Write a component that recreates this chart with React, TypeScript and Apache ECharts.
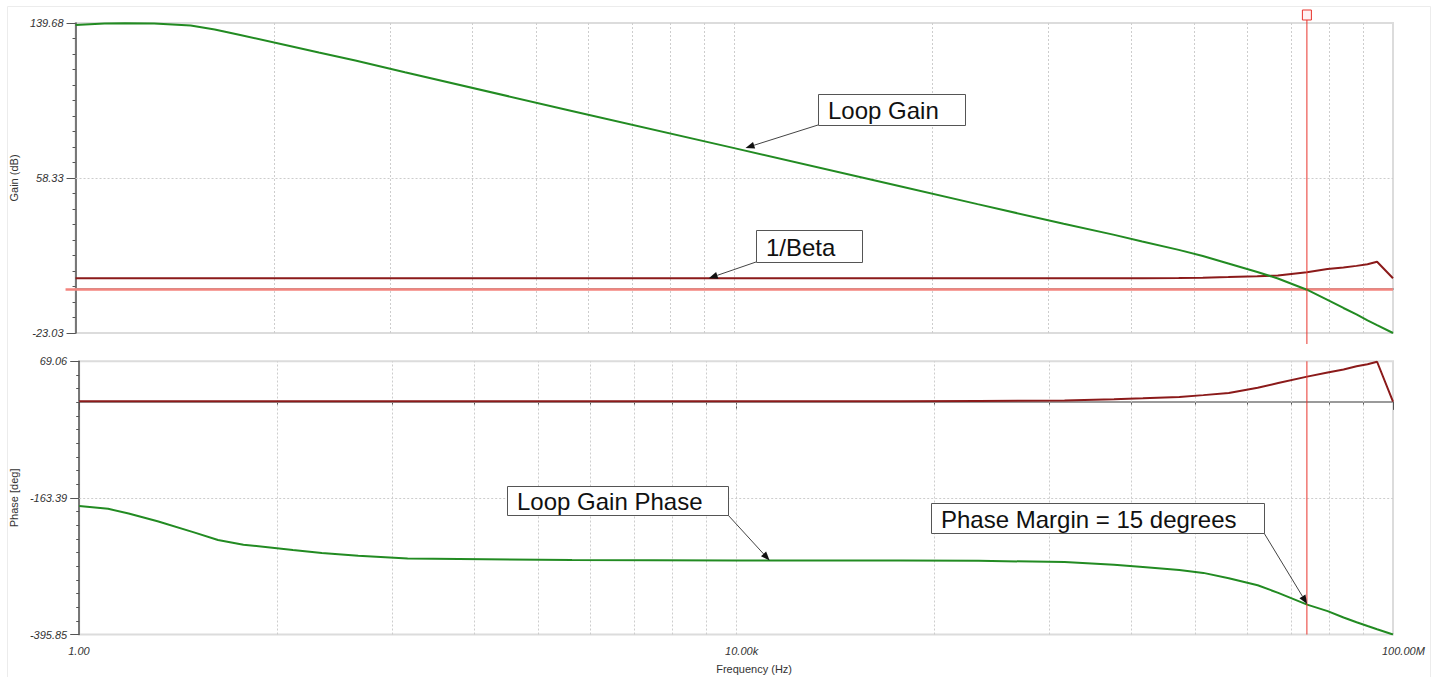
import React, { useEffect, useRef } from "react";
import * as echarts from "echarts";

// ---- data ----
const freqs = [1, 1.5, 2, 3, 5, 7, 10, 20, 30, 50, 100, 1e3, 1e4, 1e5, 3e5, 1e6, 2e6, 3e6, 5e6, 7e6, 1e7, 1.5e7, 2e7, 3e7, 4e7, 5e7, 6e7, 7e7, 8e7, 1e8];
const loopGainDb = [138.6, 139.4, 139.6, 139.4, 138.4, 136.3, 133.4, 127.6, 124.2, 120.0, 113.8, 93.8, 74.0, 54.1, 44.6, 34.3, 28.6, 25.0, 20.6, 17.4, 13.45, 9.0, 5.6, -0.3, -5.6, -9.9, -13.3, -16.4, -18.9, -23.03];
const betaDb = [5.7, 5.7, 5.7, 5.7, 5.7, 5.7, 5.7, 5.7, 5.7, 5.7, 5.7, 5.7, 5.7, 5.7, 5.7, 5.7, 5.7, 5.75, 5.85, 6.0, 6.3, 6.7, 7.2, 8.8, 10.6, 11.4, 12.2, 13.1, 14.4, 5.7];
const loopPhaseDeg = [-177, -182, -190, -203, -222, -235, -243, -252, -257, -262, -266.5, -269, -270, -270, -270.5, -272.5, -277, -281, -286, -291, -300, -312, -325, -345, -356, -367, -375, -381.5, -387, -395.85];
const betaPhaseDeg = [1, 1, 1, 1, 1, 1, 1, 1, 1, 1, 1, 1, 1, 1, 1.5, 2.5, 4.5, 6, 8.5, 11.5, 15, 24, 32, 43, 50, 55, 60.5, 64, 68.3, 0.5];

const gainRange = [-23.03, 139.68];
const phaseRange = [-395.85, 69.06];
const gainTickValues = [-23.03, 58.325, 139.68];
const gainTickLabels = ["-23.03", "58.33", "139.68"];
const phaseTickValues = [-395.85, -163.395, 69.06];
const phaseTickLabels = ["-395.85", "-163.39", "69.06"];
const freqTickValues = [1, 1e4, 1e8];
const freqTickLabels = ["1.00", "10.00k", "100.00M"];
const freqGridValues = [16, 81, 256, 625, 1296, 2401, 4096, 6561, 1e4, 160000, 810000, 2560000, 6250000, 12960000, 24010000, 40960000, 65610000];

const cursorFreq = 3e7;
const cursorGainDb = 0;

const annotations = [
  { text: "Loop Gain", grid: 0, at: [11700, 74.1], box: [818, 94, 147, 31], tail: "bl" },
  { text: "1/Beta", grid: 0, at: [7000, 5.7], box: [756, 230, 106, 32], tail: "bl" },
  { text: "Loop Gain Phase", grid: 1, at: [16000, -270], box: [507, 486, 221, 29], tail: "br" },
  { text: "Phase Margin = 15 degrees", grid: 1, at: [3e7, -344], box: [931, 503, 333, 30], tail: "br" },
];

const FONT = "'Liberation Sans', Arial, Helvetica, sans-serif";

const minorTicks = (r: number[]) => Array.from({ length: 21 }, (_, i) => r[0] + ((r[1] - r[0]) * i) / 20);
const lookup = (vals: number[], labels: string[]) => (v: number) => {
  let best = 0;
  vals.forEach((x, i) => {
    if (Math.abs(x - v) < Math.abs(vals[best] - v)) best = i;
  });
  return labels[best];
};

const yMajor = (gridIndex: number, range: number[], vals: number[], labels: string[], name: string) => ({
  type: "value",
  gridIndex,
  position: "left",
  min: range[0],
  max: range[1],
  name,
  nameLocation: "middle",
  nameRotate: 90,
  nameGap: 54,
  nameTextStyle: { fontFamily: FONT, fontSize: 11, color: "#333" },
  axisLine: { show: true, lineStyle: { color: "#555", width: 1.5 } },
  axisTick: { show: true, length: 9, customValues: vals, lineStyle: { color: "#555", width: 1 } },
  axisLabel: {
    show: true,
    customValues: vals,
    formatter: lookup(vals, labels),
    margin: 12,
    fontFamily: FONT,
    fontSize: 11,
    fontStyle: "italic",
    color: "#333",
  },
  splitLine: { show: false },
});

const yMinor = (gridIndex: number, range: number[]) => ({
  type: "value",
  gridIndex,
  position: "left",
  min: range[0],
  max: range[1],
  axisLine: { show: false },
  axisLabel: { show: false },
  splitLine: { show: false },
  axisTick: { show: true, length: 3, customValues: minorTicks(range), lineStyle: { color: "#555", width: 1 } },
});

const xBase = (gridIndex: number) => ({
  type: "log",
  logBase: 10000,
  min: 1,
  max: 1e8,
  gridIndex,
  position: "bottom",
  splitLine: { show: false },
  minorTick: { show: false },
  minorSplitLine: { show: false },
});

const gridMarkLine = (extraY: number) => ({
  silent: true,
  z: 1,
  symbol: ["none", "none"],
  label: { show: false },
  emphasis: { disabled: true },
  lineStyle: { color: "#cdcdcd", type: [2, 2], width: 1 },
  data: [...freqGridValues.map((f) => ({ xAxis: f })), { yAxis: extraY }],
});

function buildGraphics(chart: any) {
  const px = (grid: number, pt: number[]) => chart.convertToPixel({ gridIndex: grid }, pt) as number[];
  const els: any[] = [];
  els.push({
    type: "rect",
    silent: true,
    z: 0,
    shape: { x: 7.5, y: 6.5, width: 1423, height: 690 },
    style: { fill: "none", stroke: "#ececec", lineWidth: 1 },
  });
  const cx = px(0, [cursorFreq, 0])[0];
  const top0 = px(0, [1, gainRange[1]])[1];
  const bot0 = px(0, [1, gainRange[0]])[1];
  const top1 = px(1, [1, phaseRange[1]])[1];
  const bot1 = px(1, [1, phaseRange[0]])[1];
  const [left0, cy] = px(0, [1, cursorGainDb]);
  const right0 = px(0, [1e8, cursorGainDb])[0];
  els.push({
    type: "line",
    silent: true,
    z: 1,
    shape: { x1: left0 - 10, y1: cy + 0.5, x2: right0, y2: cy + 0.5 },
    style: { stroke: "#f3847e", lineWidth: 2.5 },
  });
  els.push({
    type: "line",
    silent: true,
    z: 4,
    shape: { x1: cx, y1: top0 - 3, x2: cx, y2: bot0 + 11 },
    style: { stroke: "#e8342c", lineWidth: 1 },
  });
  els.push({
    type: "line",
    silent: true,
    z: 4,
    shape: { x1: cx, y1: top1, x2: cx, y2: bot1 },
    style: { stroke: "#e8342c", lineWidth: 1 },
  });
  els.push({
    type: "rect",
    silent: true,
    z: 4,
    shape: { x: cx - 4.5, y: top0 - 13, width: 9, height: 10 },
    style: { fill: "#fff2f2", stroke: "#e8342c", lineWidth: 1 },
  });

  annotations.forEach((a) => {
    const [bx, by, bw, bh] = a.box;
    const tip = px(a.grid, a.at);
    const tail = a.tail === "bl" ? [bx, by + bh] : [bx + bw, by + bh];
    const dx = tip[0] - tail[0];
    const dy = tip[1] - tail[1];
    const len = Math.sqrt(dx * dx + dy * dy);
    const ux = dx / len;
    const uy = dy / len;
    const base = [tip[0] - ux * 9, tip[1] - uy * 9];
    const nx = -uy * 3.5;
    const ny = ux * 3.5;
    els.push({
      type: "line",
      silent: true,
      z: 10,
      shape: { x1: tail[0], y1: tail[1], x2: base[0], y2: base[1] },
      style: { stroke: "#444", lineWidth: 1 },
    });
    els.push({
      type: "polygon",
      silent: true,
      z: 10,
      shape: { points: [tip, [base[0] + nx, base[1] + ny], [base[0] - nx, base[1] - ny]] },
      style: { fill: "#111" },
    });
    els.push({
      type: "rect",
      silent: true,
      z: 10,
      shape: { x: bx + 0.5, y: by + 0.5, width: bw, height: bh },
      style: { fill: "#fff", stroke: "#555", lineWidth: 1 },
    });
    els.push({
      type: "text",
      silent: true,
      z: 11,
      x: bx + 10,
      y: by + bh / 2 + 1,
      style: {
        text: a.text,
        fontFamily: FONT,
        fontSize: 24,
        fill: "#111",
        align: "left",
        verticalAlign: "middle",
      },
    });
  });
  return els;
}

export default function App() {
  const ref = useRef<HTMLDivElement>(null);
  useEffect(() => {
    const el = ref.current;
    if (!el) return;
    const chart = echarts.init(el, null, { renderer: "svg" });
    const fmt = lookup(freqTickValues.map((v) => Math.log10(v)), freqTickLabels);
    const option: any = {
      animation: false,
      backgroundColor: "#ffffff",
      grid: [
        { left: 74, top: 23, width: 1319, height: 310, show: true, borderColor: "#dcdcdc", borderWidth: 2, backgroundColor: "transparent" },
        { left: 74, top: 361.3, width: 1319, height: 273.2, show: true, borderColor: "#dcdcdc", borderWidth: 2, backgroundColor: "transparent" },
      ],
      xAxis: [
        {
          ...xBase(0),
          axisLine: { show: true, lineStyle: { color: "#9a9a9a", width: 2 } },
          axisTick: { show: false },
          axisLabel: { show: false },
        },
        {
          ...xBase(1),
          axisLine: { show: true, lineStyle: { color: "#9a9a9a", width: 2 } },
          axisTick: { show: true, length: 4, customValues: freqGridValues, lineStyle: { color: "#555", width: 1 } },
          axisLabel: { show: false },
        },
        {
          ...xBase(1),
          axisLine: { show: false },
          axisTick: { show: true, length: 8, lineStyle: { color: "#555", width: 1 } },
          axisLabel: {
            show: true,
            formatter: (v: number) => fmt(Math.log10(v)),
            align: "left",
            padding: [0, 0, 0, -11],
            margin: 11,
            fontFamily: FONT,
            fontSize: 11,
            fontStyle: "italic",
            color: "#333",
          },
          name: "Frequency (Hz)",
          nameLocation: "middle",
          nameGap: 29,
          nameTextStyle: { fontFamily: FONT, fontSize: 11, color: "#333", padding: [0, 0, 0, 36] },
        },
      ],
      yAxis: [
        yMajor(0, gainRange, gainTickValues, gainTickLabels, "Gain (dB)"),
        yMinor(0, gainRange),
        yMajor(1, phaseRange, phaseTickValues, phaseTickLabels, "Phase [deg]"),
        yMinor(1, phaseRange),
      ],
      series: [
        {
          name: "1/Beta",
          type: "line",
          xAxisIndex: 0,
          yAxisIndex: 0,
          data: freqs.map((f, i) => [f, betaDb[i]]),
          symbol: "none",
          lineStyle: { color: "#8b1a1a", width: 2 },
          z: 2,
          markLine: gridMarkLine(gainTickValues[1]),
        },
        {
          name: "Loop Gain",
          type: "line",
          xAxisIndex: 0,
          yAxisIndex: 0,
          data: freqs.map((f, i) => [f, loopGainDb[i]]),
          symbol: "none",
          lineStyle: { color: "#228b22", width: 2 },
          z: 3,
        },
        {
          name: "1/Beta Phase",
          type: "line",
          xAxisIndex: 1,
          yAxisIndex: 2,
          data: freqs.map((f, i) => [f, betaPhaseDeg[i]]),
          symbol: "none",
          lineStyle: { color: "#8b1a1a", width: 2 },
          z: 2,
          markLine: gridMarkLine(phaseTickValues[1]),
        },
        {
          name: "Loop Gain Phase",
          type: "line",
          xAxisIndex: 1,
          yAxisIndex: 2,
          data: freqs.map((f, i) => [f, loopPhaseDeg[i]]),
          symbol: "none",
          lineStyle: { color: "#228b22", width: 2 },
          z: 3,
        },
      ],
    };
    chart.setOption(option);
    chart.setOption({ graphic: { elements: buildGraphics(chart) } });
    return () => chart.dispose();
  }, []);
  return (
    <div
      ref={ref}
      style={{ position: "absolute", left: 0, top: 0, width: 1442, height: 677, background: "#fff" }}
    />
  );
}
